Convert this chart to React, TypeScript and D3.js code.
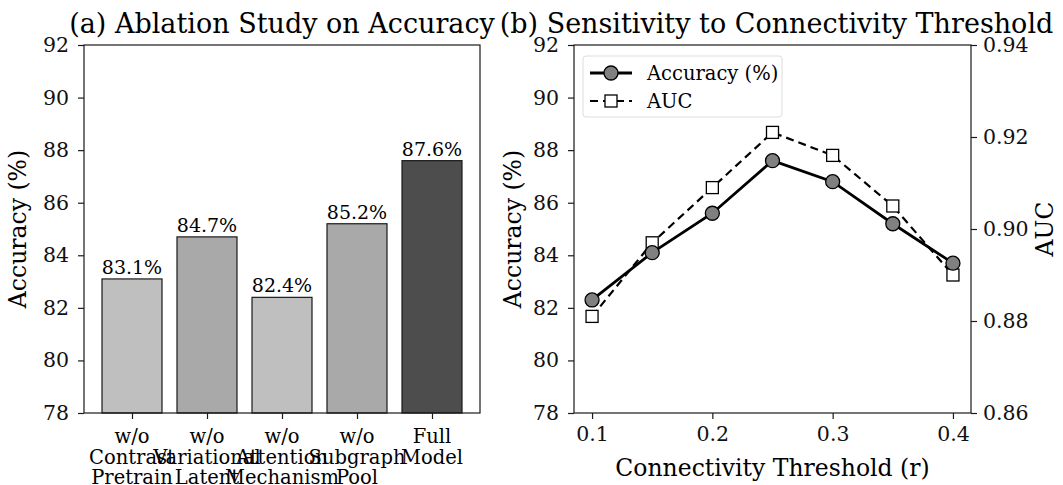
import React, { useEffect, useRef } from "react";
import * as d3 from "d3";

const ablationLabels = [
  ["w/o", "Contrast", "Pretrain"],
  ["w/o", "Variational", "Latent"],
  ["w/o", "Attention", "Mechanism"],
  ["w/o", "Subgraph", "Pool"],
  ["Full", "Model"],
];
const ablationAcc = [83.1, 84.7, 82.4, 85.2, 87.6];
const barColors = ["#bfbfbf", "#a9a9a9", "#bfbfbf", "#a9a9a9", "#4d4d4d"];

const thresholds = [0.1, 0.15, 0.2, 0.25, 0.3, 0.35, 0.4];
const thresholdAcc = [82.3, 84.1, 85.6, 87.6, 86.8, 85.2, 83.7];
const thresholdAuc = [0.881, 0.897, 0.909, 0.921, 0.916, 0.905, 0.89];

const accTicks = [78, 80, 82, 84, 86, 88, 90, 92];
const aucTicks = [0.86, 0.88, 0.9, 0.92, 0.94];
const xTicks = [0.1, 0.2, 0.3, 0.4];

const W = 1063;
const H = 485;
const FONT = "DejaVu Serif";
const TICK_FS = 20.5;
const LABEL_FS = 23.5;
const TITLE_FS = 27;

const App = () => {
  const svgRef = useRef<SVGSVGElement>(null);

  useEffect(() => {
    const svg = d3.select(svgRef.current);
    svg.selectAll("*").remove();
    svg.attr("width", W).attr("height", H).style("font-family", FONT);

    const top = 45;
    const bottom = 413;

    // ---------- (a) bars ----------
    const aL = 84, aR = 480;
    const xa = d3.scaleLinear().domain([-0.64, 4.64]).range([aL, aR]);
    const ya = d3.scaleLinear().domain([78, 92]).range([bottom, top]);
    const ga = svg.append("g");

    ga.selectAll("rect")
      .data(ablationAcc)
      .enter()
      .append("rect")
      .attr("x", (d, i) => xa(i - 0.4))
      .attr("y", (d) => ya(d))
      .attr("width", xa(0.8) - xa(0))
      .attr("height", (d) => ya(78) - ya(d))
      .attr("fill", (d, i) => barColors[i])
      .attr("stroke", "#1a1a1a")
      .attr("stroke-width", 1.2);

    ga.selectAll("text.val")
      .data(ablationAcc)
      .enter()
      .append("text")
      .attr("x", (d, i) => xa(i))
      .attr("y", (d) => ya(d) - 5)
      .attr("text-anchor", "middle")
      .attr("font-size", 19)
      .text((d) => d.toFixed(1) + "%");

    ga.append("g").attr("transform", `translate(${aL},0)`)
      .call(d3.axisLeft(ya).tickValues(accTicks).tickSize(6).tickPadding(9));
    ga.append("g").attr("transform", `translate(0,${bottom})`)
      .call(d3.axisBottom(xa).tickValues([0, 1, 2, 3, 4]).tickSize(6).tickFormat(() => ""));
    ablationLabels.forEach((lines, i) => {
      const t = ga.append("text")
        .attr("x", xa(i))
        .attr("y", bottom + 30)
        .attr("text-anchor", "middle")
        .attr("font-size", 19.5);
      lines.forEach((l, j) => {
        t.append("tspan").attr("x", xa(i)).attr("dy", j === 0 ? 0 : 20.5).text(l);
      });
    });
    ga.append("rect")
      .attr("x", aL).attr("y", top).attr("width", aR - aL).attr("height", bottom - top)
      .attr("fill", "none").attr("stroke", "#1a1a1a").attr("stroke-width", 1.2);
    ga.append("text")
      .attr("transform", `translate(26,${(top + bottom) / 2}) rotate(-90)`)
      .attr("text-anchor", "middle")
      .attr("font-size", LABEL_FS)
      .text("Accuracy (%)");
    ga.append("text")
      .attr("x", (aL + aR) / 2).attr("y", 33)
      .attr("text-anchor", "middle")
      .attr("font-size", TITLE_FS)
      .text("(a) Ablation Study on Accuracy");

    // ---------- (b) lines ----------
    const bL = 574, bR = 971;
    const xb = d3.scaleLinear().domain([0.085, 0.415]).range([bL, bR]);
    const yb = d3.scaleLinear().domain([78, 92]).range([bottom, top]);
    const yAuc = d3.scaleLinear().domain([0.86, 0.94]).range([bottom, top]);
    const gb = svg.append("g");

    gb.append("g").attr("transform", `translate(${bL},0)`)
      .call(d3.axisLeft(yb).tickValues(accTicks).tickSize(6).tickPadding(9));
    gb.append("g").attr("transform", `translate(${bR},0)`)
      .call(d3.axisRight(yAuc).tickValues(aucTicks).tickSize(6).tickPadding(6).tickFormat(d3.format(".2f")));
    gb.append("g").attr("transform", `translate(0,${bottom})`)
      .call(d3.axisBottom(xb).tickValues(xTicks).tickSize(6).tickPadding(7).tickFormat(d3.format(".1f")));

    const lineAcc = d3.line<number>().x((d, i) => xb(thresholds[i])).y((d) => yb(d));
    const lineAuc = d3.line<number>().x((d, i) => xb(thresholds[i])).y((d) => yAuc(d));

    gb.append("path").datum(thresholdAuc).attr("d", lineAuc)
      .attr("fill", "none").attr("stroke", "#000").attr("stroke-width", 2.2)
      .attr("stroke-dasharray", "8,5");
    gb.append("path").datum(thresholdAcc).attr("d", lineAcc)
      .attr("fill", "none").attr("stroke", "#000").attr("stroke-width", 2.8);

    gb.selectAll("rect.sq").data(thresholdAuc).enter().append("rect")
      .attr("x", (d, i) => xb(thresholds[i]) - 6)
      .attr("y", (d) => yAuc(d) - 6)
      .attr("width", 12).attr("height", 12)
      .attr("fill", "#fff").attr("stroke", "#000").attr("stroke-width", 1.3);
    gb.selectAll("circle.pt").data(thresholdAcc).enter().append("circle")
      .attr("cx", (d, i) => xb(thresholds[i]))
      .attr("cy", (d) => yb(d))
      .attr("r", 7)
      .attr("fill", "#808080").attr("stroke", "#000").attr("stroke-width", 1.3);

    gb.append("rect")
      .attr("x", bL).attr("y", top).attr("width", bR - bL).attr("height", bottom - top)
      .attr("fill", "none").attr("stroke", "#1a1a1a").attr("stroke-width", 1.2);

    // legend
    const lg = gb.append("g").attr("transform", `translate(${bL + 9},${top + 11})`);
    lg.append("rect").attr("width", 199).attr("height", 61).attr("rx", 3)
      .attr("fill", "#fff").attr("stroke", "#ddd").attr("stroke-width", 1);
    lg.append("line").attr("x1", 7).attr("x2", 49).attr("y1", 17).attr("y2", 17)
      .attr("stroke", "#000").attr("stroke-width", 2.8);
    lg.append("circle").attr("cx", 28).attr("cy", 17).attr("r", 7)
      .attr("fill", "#808080").attr("stroke", "#000").attr("stroke-width", 1.3);
    lg.append("text").attr("x", 64).attr("y", 24).attr("font-size", 19.5).text("Accuracy (%)");
    lg.append("line").attr("x1", 7).attr("x2", 49).attr("y1", 45).attr("y2", 45)
      .attr("stroke", "#000").attr("stroke-width", 2.2).attr("stroke-dasharray", "8,5");
    lg.append("rect").attr("x", 22).attr("y", 39).attr("width", 12).attr("height", 12)
      .attr("fill", "#fff").attr("stroke", "#000").attr("stroke-width", 1.3);
    lg.append("text").attr("x", 64).attr("y", 52).attr("font-size", 19.5).text("AUC");

    gb.append("text")
      .attr("transform", `translate(521,${(top + bottom) / 2}) rotate(-90)`)
      .attr("text-anchor", "middle").attr("font-size", LABEL_FS).text("Accuracy (%)");
    gb.append("text")
      .attr("transform", `translate(1053,${(top + bottom) / 2}) rotate(-90)`)
      .attr("text-anchor", "middle").attr("font-size", LABEL_FS).text("AUC");
    gb.append("text")
      .attr("x", (bL + bR) / 2).attr("y", 476)
      .attr("text-anchor", "middle").attr("font-size", LABEL_FS).text("Connectivity Threshold (r)");
    gb.append("text")
      .attr("x", (bL + bR) / 2 + 4).attr("y", 33)
      .attr("text-anchor", "middle").attr("font-size", TITLE_FS)
      .text("(b) Sensitivity to Connectivity Threshold");

    // tick styling
    svg.selectAll(".tick text").attr("font-size", TICK_FS).attr("font-family", FONT).attr("fill", "#111");
    svg.selectAll(".tick line").attr("stroke", "#1a1a1a").attr("stroke-width", 1.2);
    svg.selectAll(".domain").attr("stroke", "none");
  }, []);

  return <svg ref={svgRef} style={{ position: "absolute", left: 0, top: 0 }}></svg>;
};

export default App;
